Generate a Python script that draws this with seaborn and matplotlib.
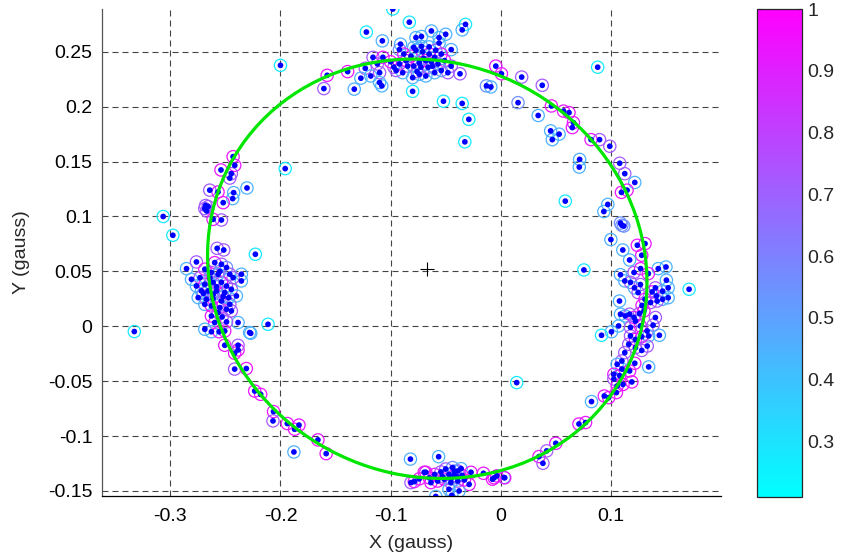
# magnetometer calibration scatter with fitted ellipse

import numpy as np
import pandas as pd
import seaborn as sns
import matplotlib
matplotlib.use('Agg')
from matplotlib import pyplot as plt
from matplotlib.patches import Ellipse

# ring colour levels
C, L, B, P, M = 0.28, 0.45, 0.55, 0.72, 0.93

pt_x = [
    # top cluster
    -0.098, -0.122, -0.1075, -0.083, -0.032, -0.035, -0.063, -0.072, -0.077, -0.056,
    -0.050, -0.056, -0.091, -0.092, -0.079, -0.072, -0.071, -0.045, -0.116, -0.107,
    -0.112, -0.123, -0.139, -0.118, -0.110, -0.127, -0.133, -0.110, -0.108, -0.097,
    -0.092, -0.088, -0.0815, -0.0845, -0.079, -0.074, -0.068, -0.065, -0.060, -0.054,
    -0.051, -0.045, -0.048, -0.054, -0.060, -0.068, -0.074, -0.080, -0.089, -0.095,
    -0.0725, -0.066, -0.062, -0.077, -0.065, -0.059, -0.037, -0.080, -0.0045, 0.0006,
    -0.013, -0.009, -0.052, -0.035, -0.029, -0.0326, -0.1576, -0.1606, -0.200, -0.1957,
    -0.086, -0.070, -0.057, -0.063, -0.076, -0.100,
    # upper right arc
    0.019, 0.0377, 0.0157, 0.034, 0.046, 0.057, 0.062, 0.066, 0.065, 0.0453,
    0.053, 0.0468, 0.082, 0.0897, 0.099, 0.088, 0.0716, 0.0713, 0.108, 0.1126,
    0.1217, 0.1096, 0.1147, 0.0586, 0.0972, 0.0936, 0.1087, 0.1117, 0.110, 0.100,
    0.124, 0.131, 0.1108, 0.128, 0.117, 0.0755, 0.143, 0.150, 0.127, 0.134,
    0.121, 0.1087,
    # right cluster
    0.1126, 0.1178, 0.1268, 0.1504, 0.1404, 0.147, 0.152, 0.1214, 0.1247, 0.1374,
    0.1413, 0.147, 0.152, 0.171, 0.131, 0.136, 0.1283, 0.142, 0.1078, 0.1087,
    0.113, 0.117, 0.121, 0.126, 0.130, 0.1404, 0.1223, 0.107, 0.1005, 0.0915,
    0.1178, 0.1268, 0.1329, 0.1383, 0.144, 0.1343, 0.1178, 0.1223, 0.128, 0.1162,
    0.1223, 0.133, 0.128, 0.1126, 0.1343, 0.110, 0.1057, 0.1217, 0.110, 0.117,
    0.1027, 0.108, 0.1027, 0.119, 0.111, 0.1057, 0.105, 0.094, 0.0824, 0.098,
    # lower right arc
    0.0145, 0.071, 0.077, 0.050, 0.0417, 0.0347, 0.0383, 0.003, -0.0036, -0.0075,
    -0.0157, -0.006, 0.0036,
    # bottom cluster
    -0.0564, -0.059, -0.0444, -0.0695, -0.082, -0.0815, -0.0785, -0.074, -0.068, -0.060,
    -0.0543, -0.050, -0.0438, -0.039, -0.036, -0.047, -0.0423, -0.0514, -0.0573, -0.0634,
    -0.0453, -0.039, -0.035, -0.027, -0.0287, -0.047, -0.0378, -0.042, -0.045, -0.040,
    -0.053, -0.033, -0.065,
    # lower left arc
    -0.3327, -0.2385, -0.2416, -0.2416, -0.231, -0.2234, -0.218, -0.2063, -0.2068, -0.1938,
    -0.1872, -0.1832, -0.166, -0.1878, -0.1585, -0.227,
    # left cluster
    -0.243, -0.2415, -0.254, -0.2446, -0.246, -0.2304, -0.2642, -0.2567, -0.2425, -0.2434,
    -0.252, -0.2687, -0.267, -0.2657, -0.268, -0.2612, -0.2536, -0.2977, -0.3065, -0.2575,
    -0.2515, -0.2228, -0.2853, -0.2763,
    -0.2597, -0.2536, -0.249, -0.2687, -0.2627, -0.2566, -0.246, -0.2355, -0.2355, -0.243,
    -0.2808, -0.273, -0.2763, -0.2687, -0.2612, -0.2536, -0.249, -0.2717, -0.2657, -0.2581,
    -0.2506, -0.2446, -0.240, -0.2747, -0.2672, -0.2612, -0.2536, -0.2687, -0.2627, -0.2551,
    -0.246, -0.249, -0.2446, -0.2567, -0.2627, -0.2385, -0.2113, -0.249, -0.2597, -0.2687,
    -0.2627, -0.2557, -0.2506, -0.228, -0.2506, -0.2385,
    -0.264, -0.258, -0.252, -0.261, -0.255, -0.270, -0.247, -0.253,
]

pt_y = [
    # top cluster
    0.289, 0.268, 0.260, 0.277, 0.275, 0.270, 0.269, 0.264, 0.263, 0.263,
    0.266, 0.258, 0.257, 0.252, 0.254, 0.255, 0.250, 0.252, 0.245, 0.245,
    0.239, 0.235, 0.232, 0.228, 0.231, 0.226, 0.216, 0.222, 0.219, 0.236,
    0.239, 0.248, 0.246, 0.237, 0.237, 0.240, 0.242, 0.248, 0.245, 0.248,
    0.242, 0.237, 0.231, 0.233, 0.231, 0.228, 0.2295, 0.2265, 0.231, 0.233,
    0.236, 0.236, 0.237, 0.2515, 0.2545, 0.2515, 0.230, 0.214, 0.237, 0.230,
    0.219, 0.218, 0.205, 0.203, 0.1885, 0.168, 0.2286, 0.2165, 0.2377, 0.1436,
    0.242, 0.244, 0.239, 0.241, 0.232, 0.241,
    # upper right arc
    0.227, 0.2195, 0.2037, 0.192, 0.2007, 0.196, 0.1946, 0.1855, 0.181, 0.178,
    0.175, 0.170, 0.170, 0.170, 0.164, 0.236, 0.152, 0.145, 0.1485, 0.139,
    0.131, 0.122, 0.124, 0.114, 0.111, 0.1045, 0.094, 0.0913, 0.092, 0.079,
    0.0738, 0.0753, 0.0695, 0.0647, 0.0604, 0.0513, 0.0525, 0.054, 0.0525, 0.048,
    0.049, 0.047,
    # right cluster
    0.0413, 0.040, 0.038, 0.042, 0.035, 0.032, 0.035, 0.035, 0.0307, 0.0313,
    0.0276, 0.0246, 0.026, 0.0337, 0.0246, 0.0216, 0.019, 0.023, 0.023, 0.011,
    0.0094, 0.011, 0.008, 0.0116, 0.014, 0.008, 0.0048, 0.0003, -0.005, -0.0082,
    -0.001, 0.0003, -0.0043, 0.001, -0.0082, -0.0088, -0.0088, -0.012, -0.0095, -0.0164,
    -0.0195, -0.018, -0.022, -0.024, -0.037, -0.0316, -0.0346, -0.0337, -0.039, -0.0407,
    -0.0437, -0.045, -0.048, -0.0507, -0.053, -0.0544, -0.0604, -0.0635, -0.0686, -0.065,
    # lower right arc
    -0.0513, -0.089, -0.0877, -0.1066, -0.1135, -0.1187, -0.1248, -0.1378, -0.1363, -0.1393,
    -0.1339, -0.138, -0.138,
    # bottom cluster
    -0.1188, -0.155, -0.154, -0.133, -0.121, -0.1424, -0.1415, -0.139, -0.133, -0.135,
    -0.1327, -0.130, -0.1287, -0.1318, -0.1297, -0.135, -0.136, -0.1393, -0.141, -0.1424,
    -0.1424, -0.141, -0.136, -0.133, -0.144, -0.1485, -0.150, -0.132, -0.139, -0.137,
    -0.137, -0.140, -0.138,
    # lower left arc
    -0.0048, -0.0216, -0.0246, -0.039, -0.0385, -0.059, -0.062, -0.0777, -0.0862, -0.0886,
    -0.0938, -0.090, -0.1035, -0.1145, -0.116, -0.0064,
    # left cluster
    0.1545, 0.1466, 0.1424, 0.139, 0.135, 0.126, 0.124, 0.1223, 0.1217, 0.1163,
    0.1126, 0.1072, 0.105, 0.109, 0.110, 0.0974, 0.0968, 0.0829, 0.100, 0.071,
    0.0695, 0.0656, 0.0525, 0.0586,
    0.058, 0.0565, 0.0535, 0.052, 0.049, 0.0474, 0.0474, 0.0474, 0.0413, 0.0443,
    0.0428, 0.0443, 0.0367, 0.0383, 0.040, 0.040, 0.0367, 0.0322, 0.0322, 0.0322,
    0.0307, 0.0337, 0.0276, 0.0261, 0.0246, 0.0252, 0.023, 0.020, 0.0185, 0.017,
    0.020, 0.0155, 0.014, 0.0125, 0.0094, 0.0034, 0.0018, 0.004, 0.0034, -0.0027,
    -0.005, -0.005, -0.0043, -0.0057, -0.0173, -0.0173,
    0.044, 0.036, 0.027, 0.029, 0.050, 0.030, 0.026, 0.0085,
]

pt_c = [
    # top cluster
    C, C, L, C, C, L, L, L, L, L,
    L, L, L, B, L, L, B, L, P, M,
    P, P, M, L, P, L, L, L, L, P,
    M, M, M, P, B, M, M, M, P, M,
    M, P, P, B, L, L, L, L, L, P,
    B, P, B, L, L, P, P, C, M, M,
    B, L, C, C, C, C, M, P, C, C,
    M, B, B, M, P, M,
    # upper right arc
    P, P, B, L, M, M, M, M, M, L,
    L, L, M, P, P, C, L, L, P, P,
    L, M, M, C, L, L, B, B, B, L,
    M, M, L, M, L, C, L, L, M, M,
    P, L,
    # right cluster
    L, P, P, L, P, L, L, L, P, M,
    P, L, L, C, M, P, M, P, L, L,
    L, P, M, P, M, P, P, L, L, C,
    P, M, P, P, L, L, P, M, M, P,
    P, P, P, P, L, P, L, M, L, M,
    M, M, P, M, M, M, M, M, L, M,
    # lower right arc
    C, M, M, M, P, M, P, L, M, M,
    M, M, M,
    # bottom cluster
    L, L, L, M, L, P, M, M, M, M,
    P, P, B, P, L, B, M, M, M, M,
    P, P, M, M, M, L, L, B, B, B,
    P, M, M,
    # lower left arc
    C, M, M, P, M, M, M, M, P, M,
    M, M, M, L, M, L,
    # left cluster
    M, M, M, P, P, L, P, M, L, L,
    M, P, P, P, P, M, P, C, C, P,
    P, C, L, P,
    M, P, B, M, P, L, P, L, L, P,
    L, P, L, M, P, M, P, L, M, P,
    M, P, L, L, P, M, P, L, M, M,
    P, P, P, P, M, L, C, P, M, L,
    L, M, M, L, M, P,
    B, B, B, B, B, B, L, P,
]

# fitted ellipse (centre, full axes, tilt in degrees)
fit_center = (-0.0667, 0.0524)
fit_width = 0.4056
fit_height = 0.375
fit_angle = -28.2

x_ticks = [-0.3, -0.2, -0.1, 0, 0.1]
x_tick_labels = ['-0.3', '-0.2', '-0.1', '0', '0.1']
y_ticks = [-0.15, -0.1, -0.05, 0, 0.05, 0.1, 0.15, 0.2, 0.25]
y_tick_labels = ['-0.15', '-0.1', '-0.05', '0', '0.05', '0.1', '0.15', '0.2', '0.25']
cb_ticks = [0.3, 0.4, 0.5, 0.6, 0.7, 0.8, 0.9, 1.0]
cb_tick_labels = ['0.3', '0.4', '0.5', '0.6', '0.7', '0.8', '0.9', '1']
c_min, c_max = 0.21, 1.0


if __name__ == '__main__':

    sns.set_style('white')
    plt.rcParams['font.family'] = ['Liberation Sans', 'DejaVu Sans']
    fs = 14

    df = pd.DataFrame({'x': pt_x, 'y': pt_y, 'c': pt_c})
    cmap = plt.get_cmap('cool')
    ring_colors = cmap((df['c'] - c_min) / (c_max - c_min))

    fig = plt.figure(figsize=(8.44, 5.6), dpi=100)
    ax = fig.add_axes([0.1209, 0.1143, 0.7334, 0.8696])
    cax = fig.add_axes([0.8969, 0.1125, 0.0533, 0.8714])

    # coloured rings
    rings = ax.scatter(df['x'], df['y'], c=df['c'], cmap=cmap, vmin=c_min, vmax=c_max,
                       s=78, marker='o', linewidths=0.9, zorder=2)
    rings.set_facecolor('none')
    rings.set_edgecolor(ring_colors)

    # blue centre dots
    sns.scatterplot(data=df, x='x', y='y', color='#0000ff', s=17, edgecolor='none',
                    ax=ax, zorder=3, legend=False)

    ax.add_patch(Ellipse(fit_center, fit_width, fit_height, angle=fit_angle,
                         fill=False, edgecolor='#00e600', linewidth=2.3, zorder=4))
    ax.plot([fit_center[0]], [fit_center[1]], marker='+', color='k', ms=10, mew=0.8,
            zorder=5)

    ax.set_xlim(-0.362, 0.2)
    ax.set_ylim(-0.1546, 0.289)
    ax.set_xticks(x_ticks)
    ax.set_xticklabels(x_tick_labels)
    ax.set_yticks(y_ticks)
    ax.set_yticklabels(y_tick_labels)
    ax.set_xlabel('X (gauss)', fontsize=fs, labelpad=7)
    ax.set_ylabel('Y (gauss)', fontsize=fs, labelpad=13)
    ax.tick_params(axis='x', direction='in', length=3, pad=9, labelsize=fs, colors='k')
    ax.tick_params(axis='y', direction='in', length=3, pad=7, labelsize=fs, colors='k')

    ax.grid(True, color='#444444', linestyle=(0, (5.4, 3.6)), linewidth=0.8)
    ax.set_axisbelow(True)
    for side in ['top', 'right']:
        ax.spines[side].set_visible(False)
    ax.spines['left'].set_color('#555555')
    ax.spines['bottom'].set_color('k')
    for side in ['left', 'bottom']:
        ax.spines[side].set_linewidth(0.9)

    cb = fig.colorbar(rings, cax=cax)
    rings.set_facecolor('none')
    rings.set_edgecolor(ring_colors)
    cb.set_ticks(cb_ticks)
    cb.set_ticklabels(cb_tick_labels)
    cb.ax.tick_params(direction='in', length=3, width=0.8, left=True, right=True,
                      labelsize=fs, pad=4)
    cb.outline.set_linewidth(0.9)

    fig.savefig('out.png', dpi=100)
